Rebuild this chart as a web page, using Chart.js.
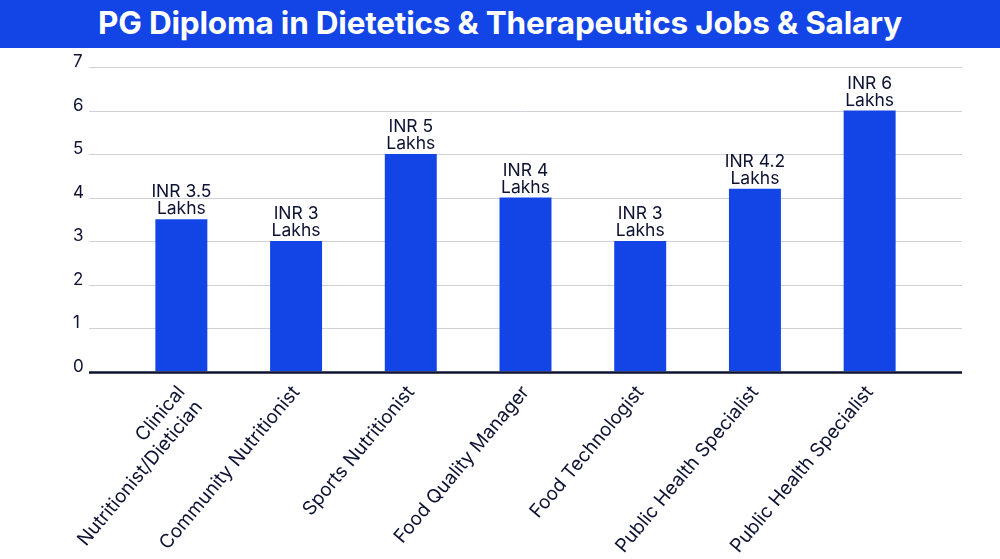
<!DOCTYPE html>
<html>
<head>
<meta charset="utf-8">
<script src="https://cdn.jsdelivr.net/npm/chart.js@4.4.1/dist/chart.umd.min.js"></script>
<style>
  html, body { margin: 0; padding: 0; background: #fff; }
  #banner {
    width: 1000px; height: 48px; background: #1244e6; color: #fff;
    font-family: Inter, sans-serif; font-weight: 700; font-size: 31.5px;
    text-align: center; line-height: 46px; letter-spacing: -0.2px;
  }
  #wrap { position: relative; width: 1000px; height: 511px; }
</style>
</head>
<body>
<div id="banner">PG Diploma in Dietetics &amp; Therapeutics Jobs &amp; Salary</div>
<div id="wrap"><canvas id="mainChart"></canvas></div>
<script>
const jobs = [
  ["Clinical", "Nutritionist/Dietician"],
  "Community Nutritionist",
  "Sports Nutritionist",
  "Food Quality Manager",
  "Food Technologist",
  "Public Health Specialist",
  "Public Health Specialist"
];
const salaries = [3.5, 3, 5, 4, 3, 4.2, 6];
const salaryText = ["3.5", "3", "5", "4", "3", "4.2", "6"];
const yTicks = [0, 1, 2, 3, 4, 5, 6, 7];

const navy = "#0d1233";
const blue = "#1244e6";

/* grid + axis line drawn wider than the plot area, like the original */
const wideGrid = {
  id: "wideGrid",
  beforeDatasetsDraw(chart) {
    const c = chart.ctx;
    const y = chart.scales.y;
    c.save();
    c.strokeStyle = "#d0d1d8";
    c.lineWidth = 1;
    yTicks.forEach(v => {
      if (v === 0) return;
      const py = Math.round(y.getPixelForValue(v)) + 0.5;
      c.beginPath();
      c.moveTo(89, py);
      c.lineTo(962, py);
      c.stroke();
    });
    c.restore();
  },
  afterDatasetsDraw(chart) {
    const c = chart.ctx;
    const y0 = chart.scales.y.getPixelForValue(0);
    c.save();
    c.strokeStyle = navy;
    c.lineWidth = 2.5;
    c.beginPath();
    c.moveTo(89, y0 + 1);
    c.lineTo(962, y0 + 1);
    c.stroke();

    /* value labels */
    c.fillStyle = navy;
    c.font = "17.5px Inter, sans-serif";
    c.textAlign = "center";
    c.textBaseline = "alphabetic";
    chart.getDatasetMeta(0).data.forEach((bar, i) => {
      c.fillText("INR " + salaryText[i], bar.x, bar.y - 22);
      c.fillText("Lakhs", bar.x, bar.y - 5);
    });
    c.restore();
  }
};

new Chart(document.getElementById("mainChart"), {
  type: "bar",
  data: {
    labels: jobs,
    datasets: [{
      data: salaries,
      backgroundColor: blue,
      barPercentage: 0.453,
      categoryPercentage: 1
    }]
  },
  options: {
    responsive: true,
    maintainAspectRatio: false,
    animation: false,
    layout: { padding: { top: 19, right: 73, left: 73, bottom: 0 } },
    plugins: {
      legend: { display: false },
      tooltip: { enabled: false }
    },
    scales: {
      x: {
        grid: { display: false },
        border: { display: false },
        ticks: {
          color: navy,
          font: { family: "Inter, sans-serif", size: 19 },
          minRotation: 50,
          maxRotation: 50,
          padding: 2
        },
        afterFit(scale) { scale.height = 187.5; }
      },
      y: {
        min: 0,
        max: 7,
        grid: { display: false },
        border: { display: false },
        ticks: {
          stepSize: 1,
          color: navy,
          font: { family: "Inter, sans-serif", size: 17 },
          padding: 0,
          labelOffset: -5,
          crossAlign: "far"
        },
        afterFit(scale) { scale.width = 51; }
      }
    }
  },
  plugins: [wideGrid]
});
</script>
</body>
</html>
